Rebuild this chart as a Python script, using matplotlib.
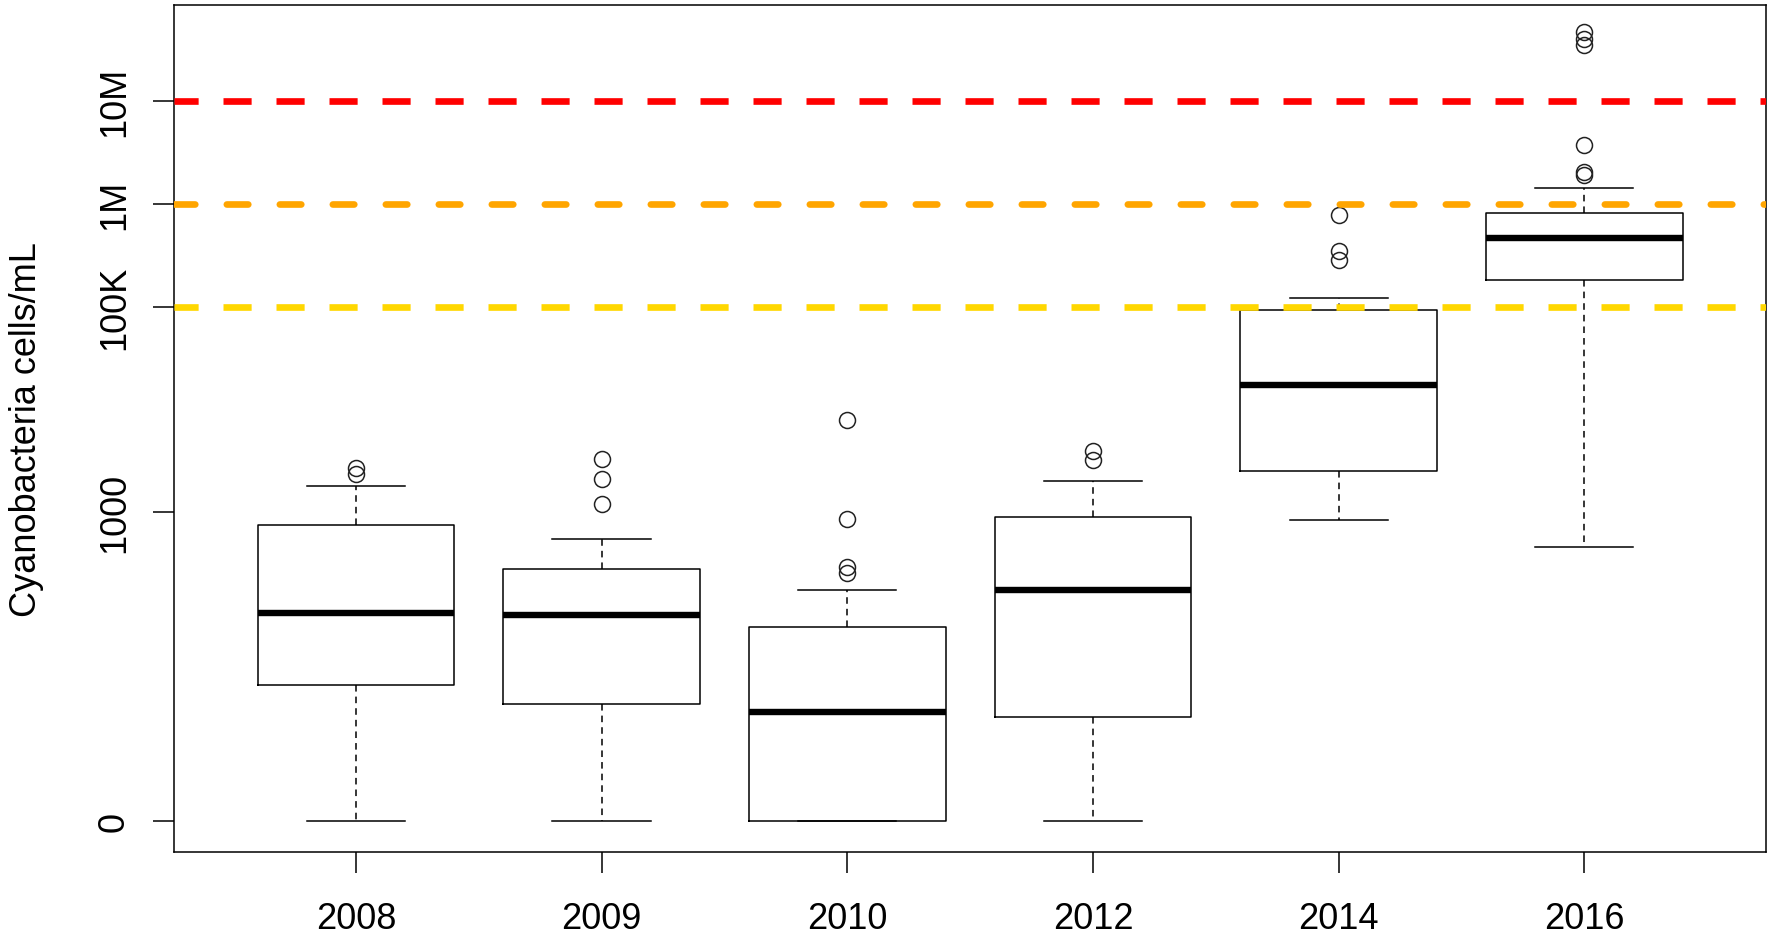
import numpy as np
import matplotlib
matplotlib.use("Agg")
import matplotlib.pyplot as plt

plt.rcParams['font.family'] = ['Liberation Sans', 'DejaVu Sans']

# sampling years and summary stats, in log10(cells/mL + 1)
years = ['2008', '2009', '2010', '2012', '2014', '2016']
q1 = [1.32, 1.13, 0.00, 1.01, 3.40, 5.26]
med = [2.02, 2.00, 1.06, 2.24, 4.24, 5.67]
q3 = [2.88, 2.45, 1.88, 2.95, 4.97, 5.91]
whislo = [0.00, 0.00, 0.00, 0.00, 2.92, 2.66]
whishi = [3.26, 2.74, 2.24, 3.30, 5.08, 6.15]
fliers = [
    [3.43, 3.37],
    [3.52, 3.32, 3.08],
    [3.90, 2.93, 2.47, 2.41],
    [3.60, 3.51],
    [5.89, 5.54, 5.45],
    [7.67, 7.60, 7.55, 6.57, 6.31, 6.28],
]

# alert levels (log10 cells/mL)
alert_levels = [5, 6, 7]
alert_colors = ['#FFD700', '#FFA500', '#FF0000']

tick_pos = [0, 3, 5, 6, 7]
tick_lab = ['0', '1000', '100K', '1M', '10M']

fig = plt.figure(figsize=(17.69, 9.37), dpi=100)
ax = fig.add_axes([0.0984, 0.0897, 0.9000, 0.9039])

stats = []
for i in range(len(years)):
    stats.append(dict(med=med[i], q1=q1[i], q3=q3[i], whislo=whislo[i],
                      whishi=whishi[i], fliers=fliers[i], label=years[i]))

pos = np.arange(1, len(years) + 1)
ax.bxp(stats, positions=pos, widths=0.8, patch_artist=False,
       boxprops=dict(color='black', lw=1.1),
       whiskerprops=dict(color='black', lw=1.1, linestyle=(0, (4.3, 3.3))),
       capprops=dict(color='black', lw=1.1),
       medianprops=dict(color='black', lw=4.6, solid_capstyle='butt'),
       flierprops=dict(marker='o', markerfacecolor='none', markeredgecolor='#222222',
                       markersize=11.5, markeredgewidth=1.1))

xl = (0.26, 6.74)
for lvl, col in zip(alert_levels, alert_colors):
    if col == '#FFA500':
        ax.plot(xl, [lvl, lvl], color=col, lw=4.8, dash_capstyle='round',
                linestyle=(0.1, (3.22, 4.73)), zorder=5)
    else:
        ax.plot(xl, [lvl, lvl], color=col, lw=4.8, dash_capstyle='butt',
                linestyle=(0.6, (4.22, 3.73)), zorder=5)

ax.set_xlim(*xl)
ax.set_ylim(-0.305, 7.935)
ax.set_xticks(pos)
ax.set_xticklabels(years)
ax.set_yticks(tick_pos)
ax.set_yticklabels(tick_lab, rotation=90, va='center')
ax.tick_params(axis='both', length=15, width=1.1, labelsize=26)
ax.tick_params(axis='x', pad=20.5)
ax.tick_params(axis='y', pad=15.4)
for s in ax.spines.values():
    s.set_linewidth(1.1)
ax.set_ylabel('Cyanobacteria cells/mL', fontsize=26, labelpad=38)

fig.savefig('out.png', dpi=100)
